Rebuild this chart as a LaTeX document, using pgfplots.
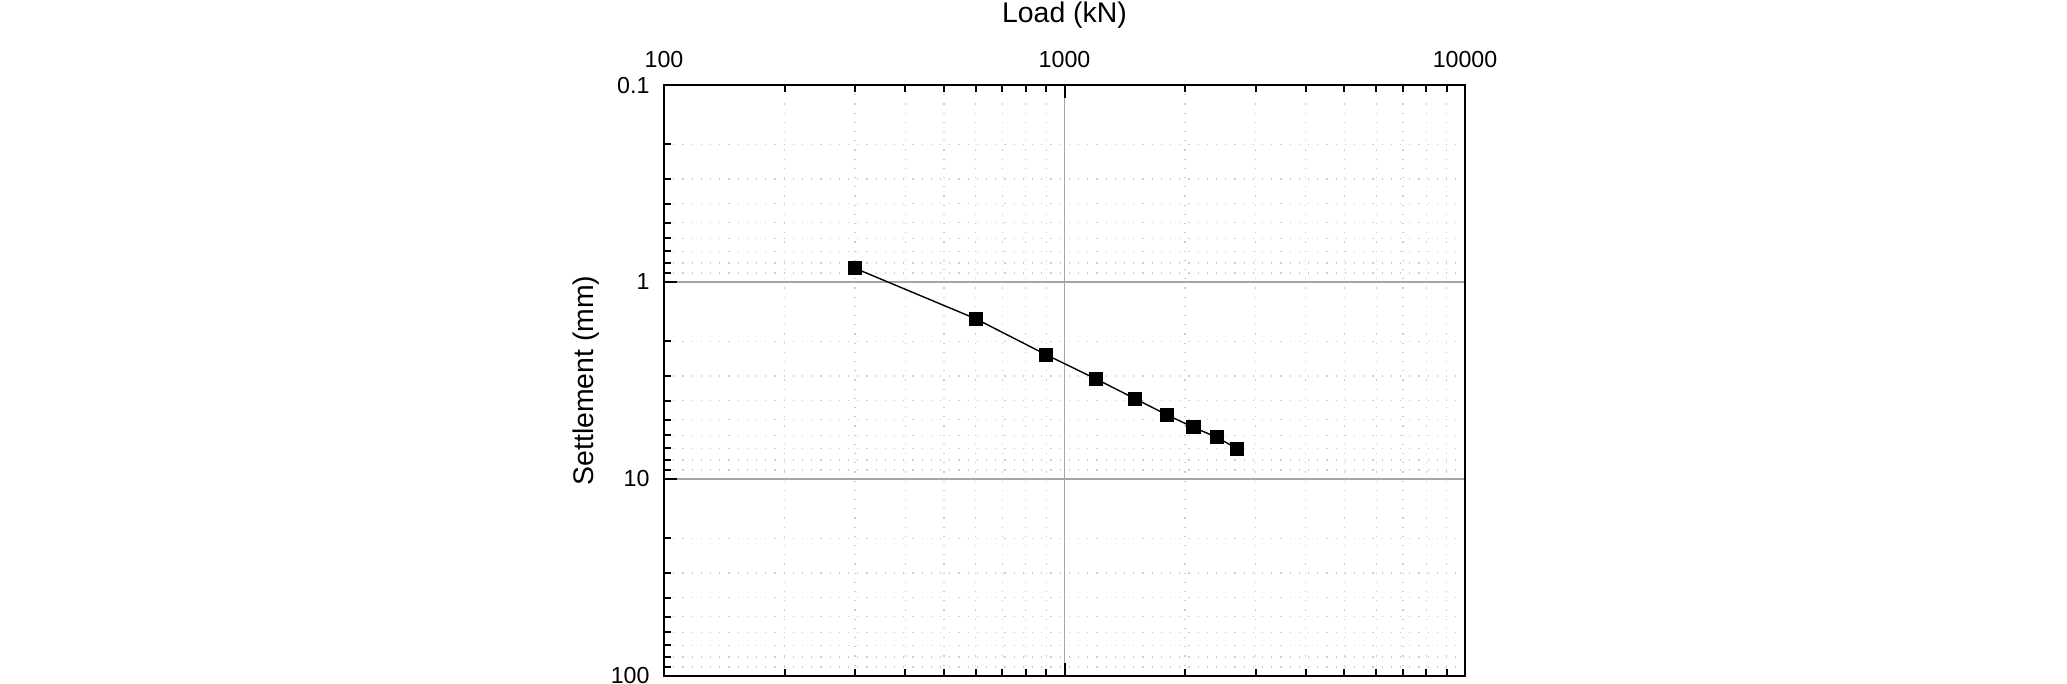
\documentclass[border=0pt]{standalone}
\usepackage{fontspec}
\setmainfont{Liberation Sans}
\usepackage{pgfplots}
\pgfplotsset{compat=1.18}
\begin{document}
\begin{tikzpicture}
\useasboundingbox (-166pt,-2pt) rectangle (350.75pt,169pt);
\begin{axis}[
  at={(0pt,0pt)}, anchor=south west,
  scale only axis, width=200.25pt, height=147.75pt,
  xmode=log, ymode=log, y dir=reverse,
  xmin=100, xmax=10000, ymin=0.1, ymax=100,
  xtick={100,1000,10000}, xticklabels={\mbox{100},\mbox{1000},\mbox{10000}},
  ytick={0.1,1,10,100}, yticklabels={\mbox{0.1},\mbox{1},\mbox{10},\mbox{100}},
  xticklabel pos=right, xtick pos=both, ytick pos=left,
  tick align=inside,
  major tick length=3.3pt, minor tick length=1.8pt,
  axis line style={line width=0.55pt},
  every tick/.style={black, line width=0.5pt},
  grid=both,
  major grid style={line width=0.3pt, color=black!35},
  minor grid style={line width=0.3pt, dotted, color=black!20},
  tick label style={font=\fontsize{5.8}{6.9}\selectfont},
  xticklabel style={yshift=0.8pt},
  yticklabel style={xshift=-0.1pt},
  label style={font=\fontsize{7.1}{8.5}\selectfont},
  xlabel={Load (kN)},
  ylabel={Settlement (mm)},
  xlabel style={at={(axis description cs:0.5,1.1176)}, anchor=center},
  ylabel style={at={(axis description cs:-0.0974,0.5)}, anchor=center, rotate=0},
]
\addplot[black, line width=0.35pt, mark=square*, mark size=1.6pt, mark options={solid}]
coordinates {
(300,0.852) (600,1.536) (900,2.34) (1200,3.11) (1500,3.91)
(1800,4.72) (2100,5.47) (2400,6.14) (2700,7.02)
};
\end{axis}
\end{tikzpicture}
\end{document}
